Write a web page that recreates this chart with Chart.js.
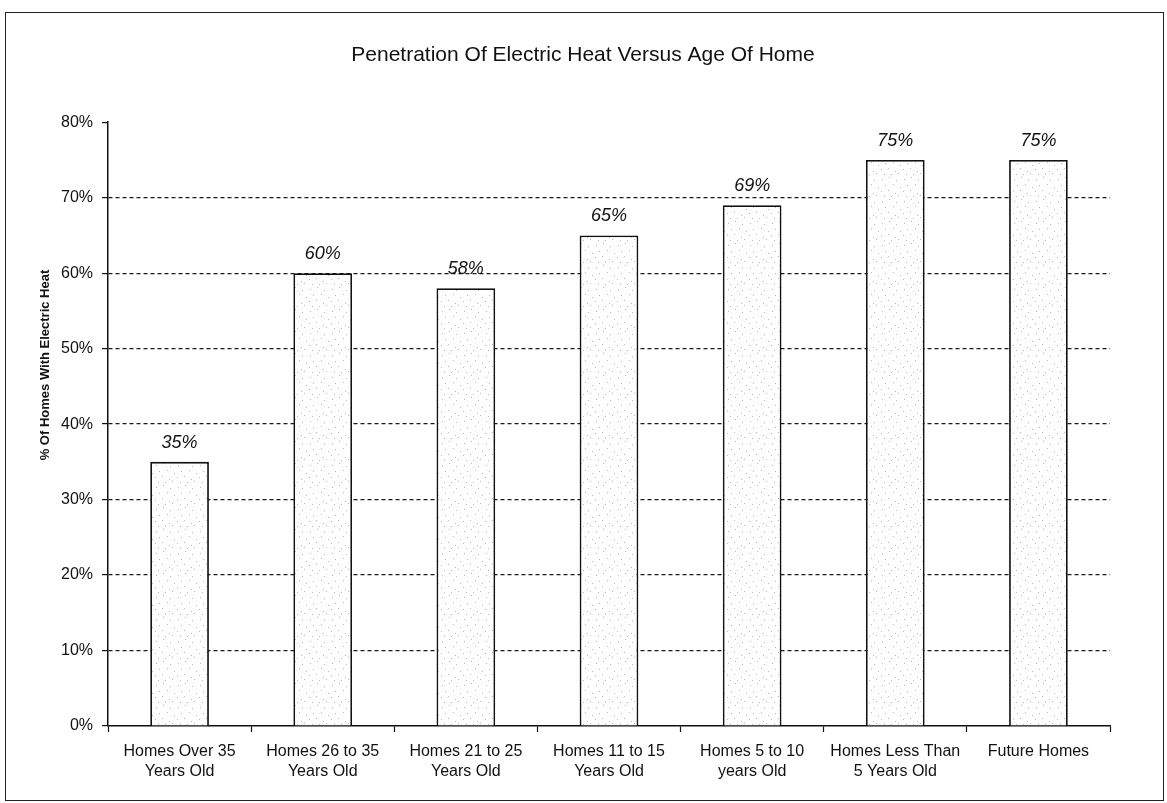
<!DOCTYPE html>
<html>
<head>
<meta charset="utf-8">
<title>Penetration Of Electric Heat Versus Age Of Home</title>
<script src="https://cdn.jsdelivr.net/npm/chart.js@4.4.1/dist/chart.umd.min.js"></script>
<style>
  html, body { margin: 0; padding: 0; background: #fff; }
  #wrap { position: relative; width: 1167px; height: 803px; overflow: hidden; }
  #c { position: absolute; left: 0; top: 0; }
  #frame {
    position: absolute; left: 5px; top: 12px; width: 1159px; height: 789px;
    border: 1.5px solid #222; box-sizing: border-box; pointer-events: none;
  }
</style>
</head>
<body>
<div id="wrap">
  <canvas id="c" width="1167" height="803"></canvas>
  <div id="frame"></div>
</div>
<script>
// Age-of-home groups (two-line axis labels)
const categories = [
  ["Homes Over 35", "Years Old"],
  ["Homes 26 to 35", "Years Old"],
  ["Homes 21 to 25", "Years Old"],
  ["Homes 11 to 15", "Years Old"],
  ["Homes 5 to 10", "years Old"],
  ["Homes Less Than", "5 Years Old"],
  ["Future Homes"]
];

// Share of homes with electric heat, in percent
const penetration = [35, 60, 58, 65, 69, 75, 75];

// Value-axis range and step, in percent
const yMin = 0;
const yMax = 80;
const yStep = 10;

const chartTitle = "Penetration Of Electric Heat Versus Age Of Home";
const yAxisTitle = "% Of Homes With Electric Heat";

const FONT = "'Liberation Sans', Arial, Helvetica, sans-serif";
const INK = "#111";

// Light stipple texture for the bar fill
function stipplePattern() {
  const c = document.createElement("canvas");
  c.width = 22; c.height = 22;
  const g = c.getContext("2d");
  g.fillStyle = "#ffffff";
  g.fillRect(0, 0, 22, 22);
  g.fillStyle = "#b8b8b8";
  const dots = [
    [2, 3], [9, 1], [16, 4], [5, 9], [13, 8], [20, 11],
    [1, 15], [8, 14], [15, 17], [11, 20], [18, 19], [4, 20]
  ];
  dots.forEach(([x, y]) => g.fillRect(x, y, 1, 1));
  return g.createPattern(c, "repeat");
}

// Italic value labels above each bar
const barValueLabels = {
  id: "barValueLabels",
  afterDatasetsDraw(chart) {
    const ctx = chart.ctx;
    const meta = chart.getDatasetMeta(0);
    ctx.save();
    ctx.font = "italic 18px " + FONT;
    ctx.fillStyle = INK;
    ctx.textAlign = "center";
    ctx.textBaseline = "middle";
    meta.data.forEach((bar, i) => {
      const v = chart.data.datasets[0].data[i];
      ctx.fillText(v + "%", bar.x, bar.y - 19);
    });
    ctx.restore();
  }
};

// Rotated value-axis title
const valueAxisTitle = {
  id: "valueAxisTitle",
  afterDraw(chart) {
    const ctx = chart.ctx;
    ctx.save();
    ctx.translate(45, 365);
    ctx.rotate(-Math.PI / 2);
    ctx.font = "bold 13px " + FONT;
    ctx.fillStyle = INK;
    ctx.textAlign = "center";
    ctx.textBaseline = "middle";
    ctx.fillText(yAxisTitle, 0, 0);
    ctx.restore();
  }
};

new Chart(document.getElementById("c"), {
  type: "bar",
  data: {
    labels: categories,
    datasets: [{
      data: penetration,
      backgroundColor: stipplePattern(),
      borderColor: "#111",
      borderWidth: 1.8,
      categoryPercentage: 1.0,
      barPercentage: 0.41
    }]
  },
  options: {
    responsive: false,
    animation: false,
    devicePixelRatio: 1,
    layout: { padding: { left: 56, right: 57, top: 0, bottom: 0 } },
    plugins: {
      legend: { display: false },
      tooltip: { enabled: false },
      title: {
        display: true,
        text: chartTitle,
        color: INK,
        font: { family: FONT, size: 21, weight: "normal", lineHeight: 1.2 },
        padding: { top: 43, bottom: 54 }
      }
    },
    scales: {
      x: {
        afterFit(scale) { scale.height = 77; },
        grid: {
          display: true,
          offset: true,
          drawOnChartArea: false,
          drawTicks: true,
          tickLength: 6,
          tickColor: "#111",
          tickWidth: 1.2,
          color: "#111"
        },
        border: { display: true, color: "#111", width: 1.5 },
        ticks: {
          color: INK,
          padding: 10,
          maxRotation: 0,
          autoSkip: false,
          font: { family: FONT, size: 16, lineHeight: 1.25 }
        }
      },
      y: {
        min: yMin,
        max: yMax,
        afterFit(scale) { scale.width = 52; },
        grid: {
          drawTicks: true,
          tickLength: 6,
          tickColor: "#111",
          tickWidth: 1.2,
          tickBorderDash: [],
          lineWidth: 1.2,
          color: (ctx) => (ctx.tick && (ctx.tick.value === yMin || ctx.tick.value === yMax)) ? "rgba(0,0,0,0)" : "#1a1a1a"
        },
        border: { display: true, color: "#111", width: 1.5, dash: [4, 3] },
        ticks: {
          stepSize: yStep,
          color: INK,
          padding: 9,
          font: { family: FONT, size: 16 },
          callback: (v) => v + "%"
        }
      }
    }
  },
  plugins: [barValueLabels, valueAxisTitle]
});
</script>
</body>
</html>
